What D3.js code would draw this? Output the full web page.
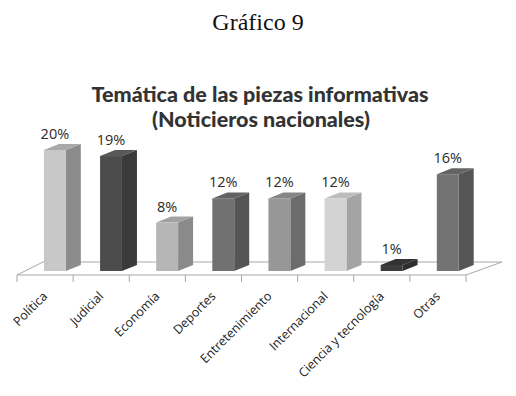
<!DOCTYPE html>
<html><head><meta charset="utf-8">
<script src="https://cdn.jsdelivr.net/npm/d3@7"></script>
<style>body{margin:0;background:#fff}svg{display:block}</style>
</head><body>
<script>
const categories = ["Política","Judicial","Economía","Deportes","Entretenimiento","Internacional","Ciencia y tecnología","Otras"];
const values = [20,19,8,12,12,12,1,16];
const valueLabels = ["20%","19%","8%","12%","12%","12%","1%","16%"];
const frontColors = ["#c8c8c8","#4c4c4c","#b6b6b6","#717171","#979797","#d3d3d3","#3c3c3c","#737373"];
const sideColors  = ["#8c8c8c","#3b3b3b","#8a8a8a","#555555","#6c6c6c","#a4a4a4","#2e2e2e","#565656"];
const topColors   = ["#a9a9a9","#585858","#a2a2a2","#626262","#858585","#bdbdbd","#333333","#646464"];

const W=516,H=396;
const svg=d3.select("body").append("svg").attr("width",W).attr("height",H);

svg.append("text").attr("x",258).attr("y",30).attr("text-anchor","middle")
  .attr("font-family","Liberation Serif").attr("font-size",24).attr("fill","#111").text("Gráfico 9");
svg.append("text").attr("x",260).attr("y",102).attr("text-anchor","middle")
  .attr("font-family","Lato").attr("font-weight","900").attr("font-size",21.5).attr("fill","#333").text("Temática de las piezas informativas");
svg.append("text").attr("x",261).attr("y",127).attr("text-anchor","middle")
  .attr("font-family","Lato").attr("font-weight","900").attr("font-size",21.5).attr("fill","#333").text("(Noticieros nacionales)");

const x=d3.scaleBand().domain(categories).range([17,466]);
const y=d3.scaleLinear().domain([0,20]).range([271,150]);
const step=x.step();
const bw=step*0.39, off=step*0.48, dx=15, dy=-6;

// floor
const fy0=275, fy1=262;
svg.append("polygon").attr("points",[[17,fy0],[43,fy1],[502,fy1],[466,fy0]].map(p=>p.join(",")).join(" "))
  .attr("fill","#fff").attr("stroke","#a8a8a8").attr("stroke-width",1);
// ticks
svg.append("g").selectAll("line").data(d3.range(categories.length+1)).join("line")
  .attr("x1",i=>17+i*step).attr("x2",i=>17+i*step).attr("y1",fy0).attr("y2",fy0+7)
  .attr("stroke","#a8a8a8");

const g=svg.append("g").selectAll("g").data(categories).join("g");
g.each(function(c,i){
  const s=d3.select(this);
  const x0=x(c)+off, x1=x0+bw, yt=y(values[i]), yb=y(0);
  s.append("polygon").attr("points",`${x1},${yb} ${x1+dx},${yb+dy} ${x1+dx},${yt+dy} ${x1},${yt}`).attr("fill",sideColors[i]);
  s.append("polygon").attr("points",`${x0},${yt} ${x1},${yt} ${x1+dx},${yt+dy} ${x0+dx},${yt+dy}`).attr("fill",topColors[i]);
  s.append("rect").attr("x",x0).attr("y",yt).attr("width",bw).attr("height",yb-yt).attr("fill",frontColors[i]);
  s.append("text").attr("x",x0+bw/2).attr("y",yt+dy-5).attr("text-anchor","middle")
    .attr("font-family","Open Sans").attr("font-size",14.5).attr("fill","#2a2a2a").text(valueLabels[i]);
});

svg.append("g").selectAll("text").data(categories).join("text")
  .attr("transform",c=>`translate(${x(c)+x.bandwidth()/2+3},${297}) rotate(-45)`)
  .attr("text-anchor","end").attr("font-family","Open Sans").attr("font-size",12.5).attr("fill","#222")
  .text(c=>c);
</script>
</body></html>
